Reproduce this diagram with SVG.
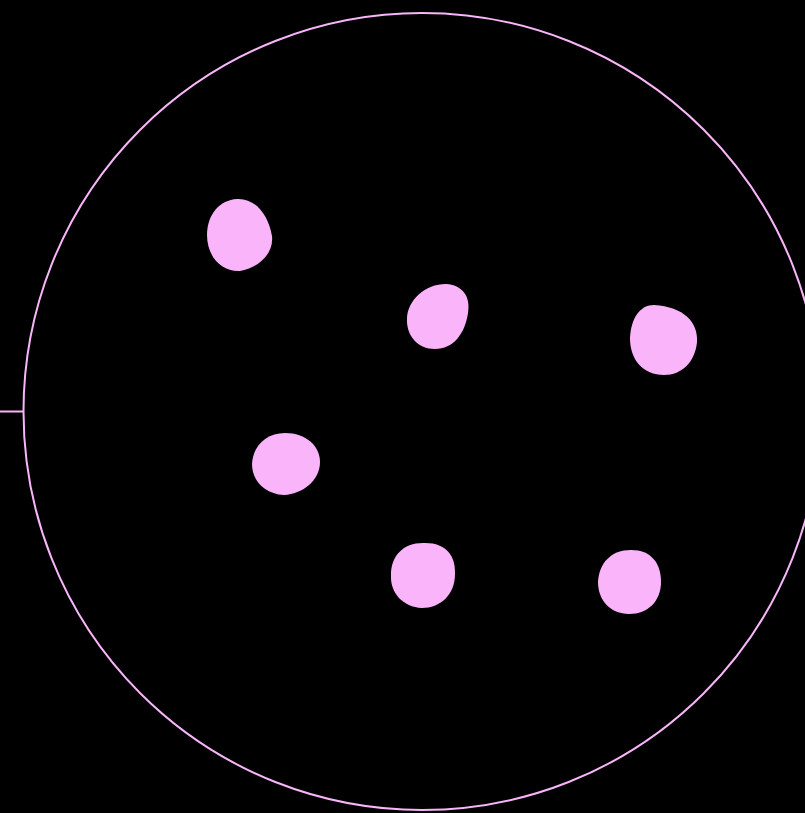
<svg xmlns="http://www.w3.org/2000/svg" width="805" height="813" viewBox="0 0 805 813">
<style>
.ring{fill:none;stroke:#f9b5f9;stroke-width:2}
.blob{fill:#fab5fa}
</style>
<rect width="805" height="813" fill="#000"/>
<g id="connectors">
<line x1="0" y1="411.5" x2="23" y2="411.5" class="ring"/>
</g>
<g id="cell"><circle cx="422" cy="411.5" r="398.5" class="ring"/></g>
<g id="blob1"><path class="blob" d="M237,199 C255,198 268,214 272,236 C274,254 258,268 240,271 C220,272 207,255 207,235 C207,214 220,200 237,199 Z"/></g>
<g id="blob2"><path class="blob" d="M446,284 C462,285 471,296 468,313 C465,334 453,349 435,349 C418,349 406,336 407,318 C408,300 425,284 446,284 Z"/></g>
<g id="blob3"><path class="blob" d="M654,305 C684,307 698,322 697,342 C695,362 682,375 664,375 C643,375 630,360 630,338 C631,318 640,305 654,305 Z"/></g>
<g id="blob4"><path class="blob" d="M285,433 C306,433 320,446 320,462 C320,481 302,494 284,495 C264,494 252,480 252,464 C253,446 266,433 285,433 Z"/></g>
<g id="blob5"><path class="blob" d="M423,543 C446,542 456,556 455,574 C455,595 440,608 422,608 C403,607 390,593 391,575 C391,556 403,543 423,543 Z"/></g>
<g id="blob6"><path class="blob" d="M631,550 C651,550 661,563 661,582 C661,601 648,614 629,614 C610,614 598,600 598,582 C599,563 611,550 631,550 Z"/></g>
</svg>
